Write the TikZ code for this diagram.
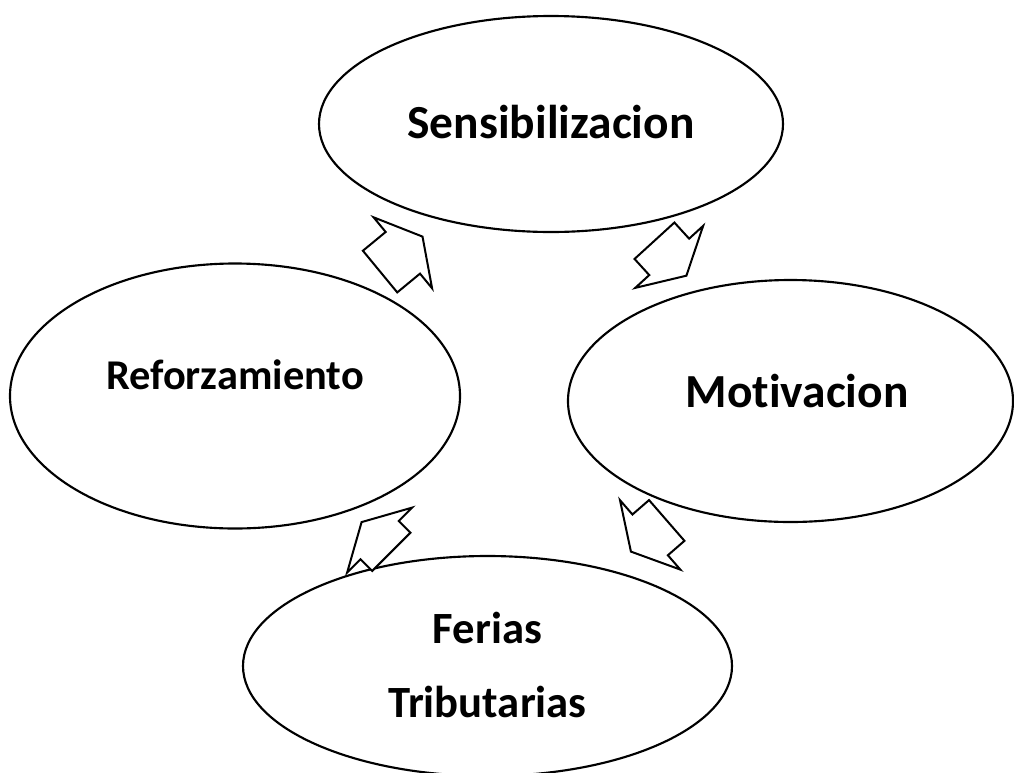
\documentclass[tikz,border=0pt]{standalone}
\usepackage{fontspec}
\setmainfont{Carlito}[Ligatures={NoCommon}]
\usetikzlibrary{shapes.geometric,shapes.arrows}

\begin{document}
\begin{tikzpicture}[x=0.75pt,y=-0.75pt,
  bubble/.style={ellipse,draw,line width=1.6pt,inner sep=0pt},
  txt/.style={font=\bfseries\fontsize{35.6}{55}\selectfont,inner sep=0pt},
  flow/.style={single arrow,draw,fill=white,line width=1.5pt,inner xsep=0pt,
    inner ysep=19.5pt,single arrow head extend=14.25pt,
    single arrow tip angle=122,anchor=tail}]
\useasboundingbox (0,0) rectangle (1014,772);
\clip (0,0) rectangle (1014,772);

\node (sens) at (551,124) [bubble, minimum width=348pt, minimum height=162pt]{};
\node (refo) at (235,396) [bubble, minimum width=337.5pt, minimum height=198.75pt]{};
\node (moti) at (790.5,401) [bubble, minimum width=333.75pt, minimum height=181.5pt]{};
\node (feri) at (487.5,666) [bubble, minimum width=366.75pt, minimum height=165pt]{};

\node (sens-txt) at (551,138.3) [txt, anchor=base]{Sensibilizacion};
\node (refo-txt) at (235,389.3) [txt, anchor=base, font=\bfseries\fontsize{31.8}{38}\selectfont]{Reforzamiento};
\node (moti-txt) at (797,407.3) [txt, anchor=base]{Motivacion};
\node (feri-txt) at (487.5,665) [txt, align=center, font=\bfseries\fontsize{33.5}{55}\selectfont]{Ferias\\Tributarias};

% flechas del ciclo
\node (a1) at (379.3,272.2) [flow, rotate=39.5, minimum height=41.25pt]{};
\node (a2) at (653.8,240) [flow, rotate=-47.6, minimum height=35.5pt]{};
\node (a3) at (667.5,519.8) [flow, rotate=-139, minimum height=35.6pt]{};
\node (a4) at (392,552.5) [flow, rotate=135, minimum height=31.5pt]{};

\end{tikzpicture}
\end{document}
